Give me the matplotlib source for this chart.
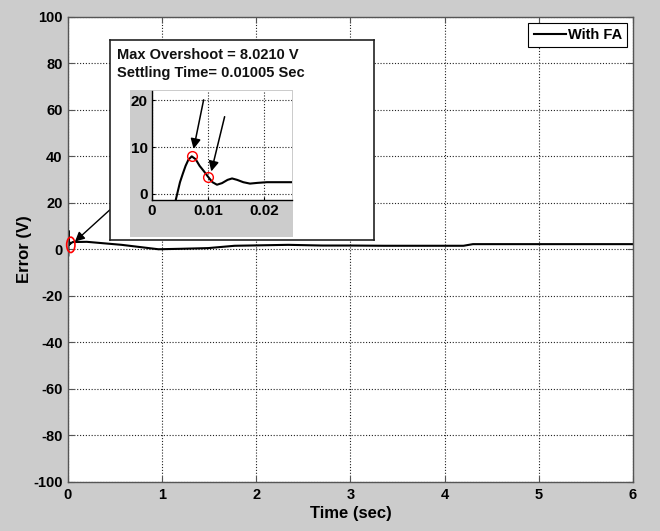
import matplotlib
matplotlib.use("Agg")
import matplotlib.pyplot as plt
from matplotlib.patches import Ellipse

plt.rcParams["font.family"] = ["Liberation Sans", "DejaVu Sans"]
plt.rcParams["font.weight"] = "bold"
plt.rcParams["axes.unicode_minus"] = False

# error response with FA: fine steps over the first transient, coarse out to 6 s
t = [0.0040, 0.0050, 0.0055, 0.0060, 0.0065, 0.0071, 0.0078, 0.0085, 0.0093,
     0.01005, 0.0108, 0.0116, 0.0125, 0.0135, 0.0143, 0.0152, 0.0163, 0.0175,
     0.0188, 0.0205, 0.0250, 0.05, 0.2, 0.57, 0.96, 1.2, 1.49, 1.77, 2.34,
     2.7, 3.0, 3.35, 4.2, 4.3, 5.0, 6.0]
err = [-2.5, 2.5, 4.3, 6.0, 7.3, 8.021, 7.4, 6.0, 4.8,
       3.6, 2.5, 1.96, 2.3, 3.0, 3.3, 3.0, 2.5, 2.2,
       2.35, 2.5, 2.5, 3.2, 3.3, 2.0, 0.1, 0.3, 0.6, 1.6, 2.0,
       1.7, 1.7, 1.6, 1.6, 2.3, 2.3, 2.3]

t_peak, max_overshoot = 0.0071, 8.021
t_settle, settle_err = 0.01005, 3.6

x_ticks = [0, 1, 2, 3, 4, 5, 6]
y_ticks = [-100, -80, -60, -40, -20, 0, 20, 40, 60, 80, 100]
zoom_xticks = [0, 0.01, 0.02]
zoom_yticks = [0, 10, 20]

GRID = dict(color="#222222", linestyle=(0, (1, 1.6)), linewidth=0.8)
FRAME = "#555555"

fig = plt.figure(figsize=(6.6, 5.31), dpi=100, facecolor="#cccccc")

# main axes
ax = fig.add_axes([0.1030, 0.0923, 0.8561, 0.8757])
ax.plot(t, err, color="black", linewidth=1.5, label="With FA")
ax.set_xlim(0, 6)
ax.set_ylim(-100, 100)
ax.set_xticks(x_ticks)
ax.set_yticks(y_ticks)
ax.grid(True, **GRID)
ax.tick_params(direction="in", length=4, width=0.8, color=FRAME,
               labelsize=10.5, top=True, right=True, pad=4)
for s in ax.spines.values():
    s.set_color(FRAME)
    s.set_linewidth(1.0)
ax.set_xlabel("Time (sec)", fontsize=12, fontweight="bold", labelpad=3)
ax.set_ylabel("Error (V)", fontsize=12, fontweight="bold", labelpad=1)

leg = ax.legend(loc="upper right", fontsize=10.5, handlelength=2.2,
                handletextpad=0.15, borderpad=0.35, borderaxespad=0.4,
                fancybox=False, framealpha=1)
leg.get_frame().set_edgecolor("black")
leg.get_frame().set_linewidth(0.8)

# red ring around the start-up transient and pointer to the zoom box
ax.add_patch(Ellipse((0.03, 2.0), 0.088, 6.6, fill=False, edgecolor="red",
                     linewidth=1.2, zorder=5, clip_on=False))
ax.annotate("", xy=(0.074, 3.4), xytext=(0.446, 17.1),
            arrowprops=dict(arrowstyle="-|>", color="black", lw=1.0,
                            mutation_scale=14, shrinkA=0, shrinkB=0))

# zoom box with its caption
box = fig.add_axes([0.1667, 0.548, 0.4, 0.377])
box.set_xticks([])
box.set_yticks([])
box.set_facecolor("white")
for s in box.spines.values():
    s.set_color("#222222")
    s.set_linewidth(1.2)
fig.text(0.1768, 0.889, f"Max Overshoot = {max_overshoot:.4f} V",
         fontsize=10.5, fontweight="bold", va="baseline", color="#111111")
fig.text(0.1768, 0.855, f"Settling Time= {t_settle:.5f} Sec",
         fontsize=10.5, fontweight="bold", va="baseline", color="#111111")

panel = fig.add_axes([0.197, 0.5537, 0.247, 0.277])
panel.set_facecolor("#cccccc")
panel.set_xticks([])
panel.set_yticks([])
for s in panel.spines.values():
    s.set_visible(False)

zax = fig.add_axes([0.2303, 0.6234, 0.2121, 0.2053])
zax.plot(t, err, color="black", linewidth=1.5)
zax.plot([t_peak, t_settle], [max_overshoot, settle_err], "o", ms=7,
         mfc="none", mec="red", mew=1.0)
zax.set_xlim(0, 0.025)
zax.set_ylim(-1.3, 22)
zax.set_xticks(zoom_xticks)
zax.set_xticklabels(["0", "0.01", "0.02"])
zax.set_yticks(zoom_yticks)
zax.grid(True, **GRID)
zax.tick_params(direction="in", length=2, labelsize=11, pad=3)
zax.spines["top"].set_visible(False)
zax.spines["right"].set_visible(False)
zax.spines["left"].set_linewidth(1.0)
zax.spines["bottom"].set_linewidth(1.0)
arrow = dict(arrowstyle="-|>", color="black", lw=1.1, mutation_scale=15,
             shrinkA=0, shrinkB=0)
zax.annotate("", xy=(0.00743, 9.6), xytext=(0.00922, 20.1), arrowprops=arrow)
zax.annotate("", xy=(0.01059, 4.8), xytext=(0.01297, 16.5), arrowprops=arrow)

fig.savefig("out.png", dpi=100, facecolor=fig.get_facecolor())
